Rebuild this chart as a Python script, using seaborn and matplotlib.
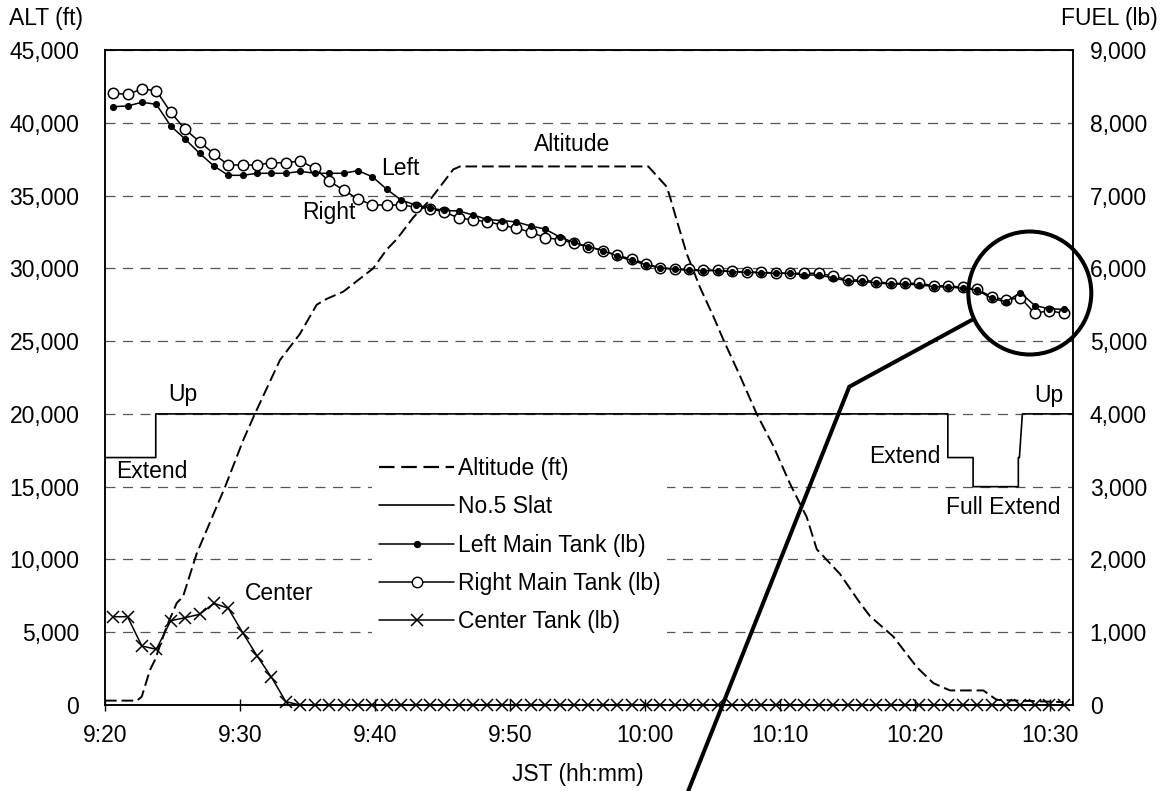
import numpy as np
import pandas as pd
import matplotlib
matplotlib.use("Agg")
import matplotlib.pyplot as plt
import seaborn as sns
from matplotlib.lines import Line2D
from matplotlib.patches import Ellipse
from matplotlib.ticker import FuncFormatter, FixedLocator

sns.set_theme(style="white")
plt.rcParams['font.family'] = ['Liberation Sans', 'DejaVu Sans']
plt.rcParams['text.color'] = 'black'
plt.rcParams['axes.labelcolor'] = 'black'
plt.rcParams['xtick.color'] = 'black'
plt.rcParams['ytick.color'] = 'black'

# ---------------- data (minutes after 9:20 JST) ----------------
tank_t = [0.60, 1.67, 2.73, 3.80, 4.87, 5.93, 7.00, 8.07, 9.13, 10.20,
          11.27, 12.33, 13.40, 14.47, 15.53, 16.60, 17.67, 18.73, 19.80, 20.87,
          21.93, 23.00, 24.07, 25.13, 26.20, 27.27, 28.33, 29.40, 30.47, 31.53,
          32.60, 33.67, 34.73, 35.80, 36.87, 37.93, 39.00, 40.07, 41.13, 42.20,
          43.27, 44.33, 45.40, 46.47, 47.53, 48.60, 49.67, 50.73, 51.80, 52.87,
          53.93, 55.00, 56.07, 57.13, 58.20, 59.27, 60.33, 61.40, 62.47, 63.53,
          64.60, 65.67, 66.73, 67.80, 68.87, 69.93, 71.00]

left_fuel = [8221, 8231, 8281, 8254, 7956, 7777, 7581, 7406, 7278, 7278,
             7306, 7306, 7306, 7333, 7306, 7306, 7306, 7342, 7259, 7086,
             6939, 6870, 6829, 6795, 6788, 6733, 6671, 6657, 6637, 6582,
             6540, 6431, 6355, 6297, 6245, 6169, 6108, 6049, 6005, 5987,
             5973, 5968, 5968, 5954, 5943, 5940, 5932, 5932, 5908, 5908,
             5870, 5826, 5822, 5799, 5785, 5781, 5775, 5748, 5744, 5726,
             5702, 5588, 5542, 5664, 5489, 5444, 5437]

right_fuel = [8405, 8391, 8464, 8441, 8144, 7910, 7740, 7571, 7420, 7420,
              7420, 7451, 7451, 7475, 7375, 7200, 7076, 6953, 6870, 6870,
              6870, 6843, 6818, 6774, 6692, 6664, 6641, 6595, 6550, 6499,
              6421, 6396, 6344, 6297, 6245, 6179, 6128, 6066, 6005, 5995,
              5984, 5977, 5975, 5957, 5950, 5946, 5936, 5932, 5932, 5932,
              5895, 5840, 5840, 5816, 5794, 5794, 5794, 5761, 5761, 5739,
              5712, 5610, 5565, 5597, 5382, 5418, 5382]

center_fuel = [1213, 1213, 811, 765, 1158, 1200, 1246, 1397, 1329, 993,
               673, 381, 45, 0, 0, 0, 0, 0, 0, 0,
               0, 0, 0, 0, 0, 0, 0, 0, 0, 0,
               0, 0, 0, 0, 0, 0, 0, 0, 0, 0,
               0, 0, 0, 0, 0, 0, 0, 0, 0, 0,
               0, 0, 0, 0, 0, 0, 0, 0, 0, 0,
               0, 0, 0, 0, 0, 0, 0]

alt_t = [0, 2.37, 2.72, 3.33, 3.70, 4.57, 5.31, 5.78, 6.79, 8.9,
         10.24, 11.1, 12.96, 14.44, 15.68, 16.42, 17.65, 19.87, 20.87, 21.61,
         22.84, 24.07, 25.8, 26.3, 40.24, 41.61, 41.85, 42.35, 43.09, 44.07,
         45.06, 45.8, 47.04, 48.27, 49.5, 50.74, 51.98, 52.72, 54.44, 55.93,
         56.67, 58.39, 60.13, 61.36, 62.59, 65.06, 66.05, 71.0]
alt_ft = [300, 300, 570, 2400, 3100, 5400, 7000, 7450, 10400, 15000,
          18200, 20000, 23700, 25500, 27500, 27900, 28400, 30000, 31300, 32000,
          33500, 34700, 36800, 37000, 37000, 35600, 34900, 33300, 31000, 28700,
          26700, 25100, 22600, 20000, 17800, 15200, 12900, 10700, 9000, 7000,
          6100, 4700, 2600, 1500, 1000, 1000, 350, 200]

# No.5 slat position plotted on the ALT scale (20000 = Up, 17000 = Extend, 15000 = Full Extend)
slat_t = [0, 3.76, 3.76, 62.43, 62.43, 64.3, 64.3, 67.65, 67.65, 67.73, 67.95, 71.7]
slat_ft = [17000, 17000, 20000, 20000, 17000, 17000, 15000, 15000, 17000, 17000, 20000, 20000]

xtick_pos = [0, 10, 20, 30, 40, 50, 60, 70]
xtick_labels = ["9:20", "9:30", "9:40", "9:50", "10:00", "10:10", "10:20", "10:30"]
alt_ticks = [0, 5000, 10000, 15000, 20000, 25000, 30000, 35000, 40000, 45000]
fuel_ticks = [0, 1000, 2000, 3000, 4000, 5000, 6000, 7000, 8000, 9000]

tanks = pd.DataFrame({"t": tank_t, "left": left_fuel, "right": right_fuel, "center": center_fuel})
alt = pd.DataFrame({"t": alt_t, "alt": alt_ft})
slat = pd.DataFrame({"t": slat_t, "pos": slat_ft})

# ---------------- figure ----------------
FS = 16.5
fig = plt.figure(figsize=(11.65, 7.91), dpi=100)
ax = fig.add_axes([105 / 1165, 1 - 705 / 791, (1073 - 105) / 1165, (705 - 50) / 791])
ax2 = ax.twinx()

alt_style = (0, (6, 2.5))
common = dict(estimator=None, sort=False, errorbar=None, legend=False, color="black")

sns.lineplot(data=alt, x="t", y="alt", ax=ax, linewidth=1.4, linestyle=alt_style, **common)
sns.lineplot(data=slat, x="t", y="pos", ax=ax, linewidth=1.2, **common)

sns.lineplot(data=tanks, x="t", y="right", ax=ax2, linewidth=1.1, marker="o", markersize=7.5,
             markerfacecolor="white", markeredgecolor="black", markeredgewidth=1.1, **common)
sns.lineplot(data=tanks, x="t", y="left", ax=ax2, linewidth=1.1, marker="o", markersize=4.3,
             markerfacecolor="black", markeredgecolor="black", markeredgewidth=0.8, **common)
sns.lineplot(data=tanks, x="t", y="center", ax=ax2, linewidth=1.1, marker="x", markersize=9,
             markeredgecolor="black", markeredgewidth=1.1, clip_on=False, **common)

ax.set_xlim(0, 71.7)
ax.set_ylim(0, 45000)
ax2.set_ylim(0, 9000)

ax.xaxis.set_major_locator(FixedLocator(xtick_pos))
ax.set_xticklabels(xtick_labels, fontsize=FS)
ax.yaxis.set_major_locator(FixedLocator(alt_ticks))
ax.yaxis.set_major_formatter(FuncFormatter(lambda v, p: f"{int(v):,}"))
ax2.yaxis.set_major_locator(FixedLocator(fuel_ticks))
ax2.yaxis.set_major_formatter(FuncFormatter(lambda v, p: f"{int(v):,}"))

ax.tick_params(axis="x", direction="inout", length=8, width=1.0, color="black", pad=10, labelsize=FS,
               labelcolor="black", bottom=True)
ax.tick_params(axis="y", length=0, pad=18.5, labelsize=FS, labelcolor="black")
ax2.tick_params(axis="y", length=0, pad=12, labelsize=FS, labelcolor="black")

ax.set_xlabel("")
ax.set_ylabel("")
ax2.set_ylabel("")
ax.text(0.4886, -0.088, "JST (hh:mm)", transform=ax.transAxes, ha="center", va="top", fontsize=FS,
        color="black")

ax.yaxis.grid(True, linestyle=(0, (8, 6)), color="#555555", linewidth=0.9)
ax.xaxis.grid(False)
ax2.grid(False)
for a in (ax, ax2):
    for s in a.spines.values():
        s.set_color("black")
        s.set_linewidth(1.1)
        s.set_visible(True)

fig.text(9 / 1165, 1 - 19 / 791, "ALT (ft)", ha="left", va="center", fontsize=FS, color="black")
fig.text(1158 / 1165, 1 - 19 / 791, "FUEL (lb)", ha="right", va="center", fontsize=FS, color="black")

# annotations
labels = [("Altitude", 34.63, 38540), ("Left", 21.85, 36860), ("Right", 16.6, 33830),
          ("Up", 5.78, 21300), ("Extend", 3.44, 16030), ("Center", 12.89, 7660),
          ("Extend", 59.21, 17060), ("Full Extend", 66.52, 13600), ("Up", 69.9, 21230)]
for txt, x, y in labels:
    ax.text(x, y, txt, ha="center", va="center", fontsize=FS, color="black")

circ = Ellipse((68.5, 5661), width=9.11, height=1690, fill=False, linewidth=2.9,
               edgecolor="black", clip_on=False, zorder=5)
ax2.add_patch(circ)
ax2.add_line(Line2D([64.2, 55.13, 43.2], [5290, 4373, -1182], color="black", linewidth=2.9,
                    clip_on=False, zorder=5, solid_joinstyle="miter"))

handles = [
    Line2D([], [], color="black", linewidth=1.6, linestyle=(0, (7, 3))),
    Line2D([], [], color="black", linewidth=1.2),
    Line2D([], [], color="black", linewidth=1.1, marker="o", markersize=4.3, markerfacecolor="black"),
    Line2D([], [], color="black", linewidth=1.1, marker="o", markersize=7.5, markerfacecolor="white",
           markeredgecolor="black"),
    Line2D([], [], color="black", linewidth=1.1, marker="x", markersize=9, markeredgewidth=1.1),
]
names = ["Altitude (ft)", "No.5 Slat", "Left Main Tank (lb)", "Right Main Tank (lb)", "Center Tank (lb)"]
leg = ax2.legend(handles, names, loc="upper left", bbox_to_anchor=((372 - 105) / 968, (705 - 450) / 655),
                 borderaxespad=0, borderpad=0.3, labelspacing=0.67, handlelength=3.3, handletextpad=0.15,
                 fontsize=FS, frameon=True, fancybox=False, framealpha=1, facecolor="white",
                 edgecolor="white", numpoints=1)
leg.get_frame().set_linewidth(0)
for t in leg.get_texts():
    t.set_color("black")
leg.set_zorder(10)

fig.savefig("out.png", dpi=100, facecolor="white")
